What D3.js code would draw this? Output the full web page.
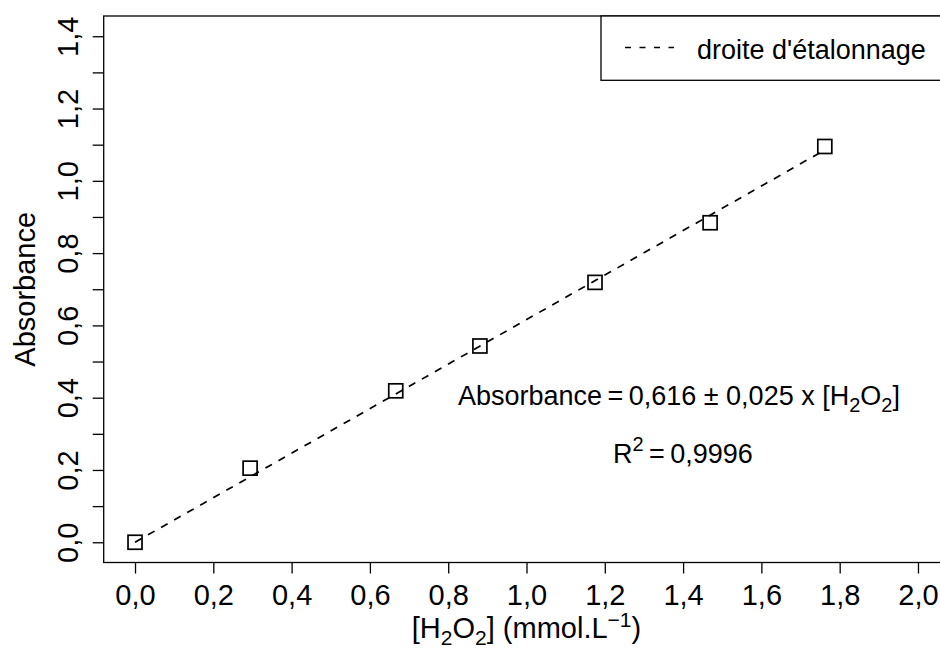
<!DOCTYPE html>
<html>
<head>
<meta charset="utf-8">
<script src="https://cdn.jsdelivr.net/npm/d3@7"></script>
<style>
  body { margin: 0; background: #fff; }
  text { font-family: "Liberation Sans", Arial, Helvetica, sans-serif; fill: #000; }
</style>
</head>
<body>
<script>
// calibration points
var conc = [0, 0.294, 0.666, 0.881, 1.175, 1.469, 1.762];
var absorb = [0, 0.205, 0.419, 0.543, 0.719, 0.884, 1.095];
var slope = 0.616;
var xTicks = [0, 0.2, 0.4, 0.6, 0.8, 1.0, 1.2, 1.4, 1.6, 1.8, 2.0];
var yTicks = [0, 0.1, 0.2, 0.3, 0.4, 0.5, 0.6, 0.7, 0.8, 0.9, 1.0, 1.1, 1.2, 1.3, 1.4];
var legendLabel = "droite d'étalonnage";

var width = 940, height = 648;
var plot_l = 103.7, plot_r = 949.3, plot_t = 16, plot_b = 562.5;

var fr = d3.formatLocale({decimal: ",", thousands: " ", grouping: [3], currency: ["", ""]});
var fmt = fr.format(".1f");

var svg = d3.select("body")
    .append("svg")
    .attr("width", width)
    .attr("height", height);

// R style 4% extension of xlim=c(0,2), ylim=c(0,1.4)
var x = d3.scaleLinear().domain([-0.08, 2.08]).range([plot_l, plot_r]);
var y = d3.scaleLinear().domain([-0.056, 1.456]).range([plot_b, plot_t]);

var xAxis = svg.append("g")
    .attr("transform", "translate(0," + plot_b + ")")
    .call(d3.axisBottom(x).tickValues(xTicks).tickSize(11).tickFormat(fmt));
xAxis.select(".domain").remove();
xAxis.selectAll("line").attr("stroke", "#000").attr("stroke-width", 1.3);
xAxis.selectAll("text")
    .attr("y", 42.5)
    .attr("dy", 0)
    .style("font-size", "29px")
    .style("font-family", "Liberation Sans, Arial, sans-serif");

var yAxis = svg.append("g")
    .attr("transform", "translate(" + plot_l + ",0)")
    .call(d3.axisLeft(y).tickValues(yTicks).tickSize(11)
        .tickFormat(function(d) { return Math.round(d * 10) % 2 === 0 ? fmt(d) : ""; }));
yAxis.select(".domain").remove();
yAxis.selectAll("line").attr("stroke", "#000").attr("stroke-width", 1.3);
yAxis.selectAll("text")
    .attr("transform", "rotate(-90)")
    .attr("x", 0)
    .attr("y", -26)
    .attr("dy", 0)
    .style("text-anchor", "middle")
    .style("font-size", "29px")
    .style("font-family", "Liberation Sans, Arial, sans-serif");

// box
svg.append("rect")
    .attr("x", plot_l)
    .attr("y", plot_t)
    .attr("width", plot_r - plot_l)
    .attr("height", plot_b - plot_t)
    .attr("fill", "none")
    .attr("stroke", "#000")
    .attr("stroke-width", 1.3);

// fitted line
var xmax = d3.max(conc);
svg.append("line")
    .attr("x1", x(0))
    .attr("y1", y(0))
    .attr("x2", x(xmax))
    .attr("y2", y(slope * xmax))
    .attr("stroke", "#000")
    .attr("stroke-width", 1.7)
    .attr("stroke-dasharray", "7.5,7.5");

var size = 14;
svg.selectAll("rect.pt")
    .data(conc)
    .enter()
    .append("rect")
    .attr("class", "pt")
    .attr("x", function(d) { return x(d) - size / 2; })
    .attr("y", function(d, i) { return y(absorb[i]) - size / 2; })
    .attr("width", size)
    .attr("height", size)
    .attr("fill", "none")
    .attr("stroke", "#000")
    .attr("stroke-width", 1.7);

// legend
svg.append("rect")
    .attr("x", 601)
    .attr("y", plot_t)
    .attr("width", plot_r - 601)
    .attr("height", 80.3 - plot_t)
    .attr("fill", "#fff")
    .attr("stroke", "#000")
    .attr("stroke-width", 1.3);
svg.append("line")
    .attr("x1", 625).attr("x2", 674)
    .attr("y1", 47.5).attr("y2", 47.5)
    .attr("stroke", "#000")
    .attr("stroke-width", 1.7)
    .attr("stroke-dasharray", "6,8.5");
svg.append("text")
    .attr("x", 697)
    .attr("y", 59)
    .style("font-size", "27px")
    .text(legendLabel);

// axis titles
svg.append("text")
    .attr("transform", "translate(35," + ((plot_t + plot_b) / 2) + ") rotate(-90)")
    .attr("text-anchor", "middle")
    .style("font-size", "29px")
    .text("Absorbance");

var xl = svg.append("text")
    .attr("x", (plot_l + plot_r) / 2)
    .attr("y", 638)
    .attr("text-anchor", "middle")
    .style("font-size", "29px");
xl.append("tspan").text("[H");
xl.append("tspan").attr("dy", 7).style("font-size", "21px").text("2");
xl.append("tspan").attr("dy", -7).text("O");
xl.append("tspan").attr("dy", 7).style("font-size", "21px").text("2");
xl.append("tspan").attr("dy", -7).text("] (mmol.L");
xl.append("tspan").attr("dy", -11).style("font-size", "21px").text("\u22121");
xl.append("tspan").attr("dy", 11).text(")");

// equation annotation
var eq = svg.append("text")
    .attr("x", 679)
    .attr("y", 405)
    .attr("text-anchor", "middle")
    .style("font-size", "27px");
eq.append("tspan").text("Absorbance\u2009=\u20090,616 \u00b1 0,025 x [H");
eq.append("tspan").attr("dy", 7).style("font-size", "20px").text("2");
eq.append("tspan").attr("dy", -7).text("O");
eq.append("tspan").attr("dy", 7).style("font-size", "20px").text("2");
eq.append("tspan").attr("dy", -7).text("]");

var r2 = svg.append("text")
    .attr("x", 683)
    .attr("y", 463)
    .attr("text-anchor", "middle")
    .style("font-size", "27px");
r2.append("tspan").text("R");
r2.append("tspan").attr("dy", -12).style("font-size", "20px").text("2");
r2.append("tspan").attr("dy", 12).text("\u2009=\u20090,9996");
</script>
</body>
</html>
